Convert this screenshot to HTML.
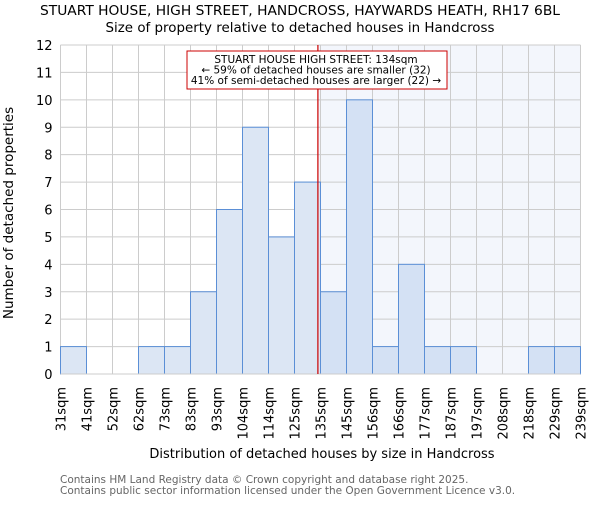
<!DOCTYPE html>
<html><head><meta charset="utf-8"><style>
body{margin:0;background:#fff;}
svg{font-family:"DejaVu Sans","Liberation Sans",sans-serif;}
</style></head><body>
<svg id="c" width="600" height="500"></svg>
<script>
const categories=["31sqm","41sqm","52sqm","62sqm","73sqm","83sqm","93sqm","104sqm","114sqm","125sqm","135sqm","145sqm","156sqm","166sqm","177sqm","187sqm","197sqm","208sqm","218sqm","229sqm","239sqm"];
const binEdges=[31,41,52,62,73,83,93,104,114,125,135,145,156,166,177,187,197,208,218,229,239];
const counts=[1,0,0,1,1,3,6,9,5,7,3,10,1,4,1,1,0,0,1,1];
const yTicks=[0,1,2,3,4,5,6,7,8,9,10,11,12];
const propertySize=134;
const NS="http://www.w3.org/2000/svg";
const svg=document.getElementById('c');
const X0=60.5,X1=580.5,Y0=374,Y1=45,YMAX=12;
const bw=(X1-X0)/counts.length;
function xi(i){return X0+i*bw;}
function y(v){return Y0-(v/YMAX)*(Y0-Y1);}
function xv(v){let i=0;while(i<binEdges.length-2&&v>binEdges[i+1])i++;return xi(i)+(v-binEdges[i])/(binEdges[i+1]-binEdges[i])*bw;}
function mk(t,a,txt){const e=document.createElementNS(NS,t);for(const k in a)e.setAttribute(k,a[k]);if(txt!==undefined)e.textContent=txt;svg.appendChild(e);return e;}
const lx=xv(propertySize);
let e;
e=mk('rect',{x:lx,y:Y1,width:X1-lx,height:Y0-Y1,fill:'#f3f6fc'});


for(let i=0;i<=counts.length;i++){e=mk('line',{x1:xi(i),x2:xi(i),y1:Y1,y2:Y0,stroke:'#cccccc','stroke-width':1});

}
yTicks.forEach(t=>{e=mk('line',{x1:X0,x2:X1,y1:y(t),y2:y(t),stroke:'#cccccc','stroke-width':1});


e=mk('text',{x:X0-8,y:y(t)+5,'text-anchor':'end','font-size':13,fill:'#000'},t);

});
counts.forEach((c,i)=>{if(c<=0)return;e=mk('rect',{x:xi(i),y:y(c),width:bw,height:Y0-y(c),fill:binEdges[i]>=propertySize?'#d4e1f4':'#dce6f4',stroke:'#5b8fd6','stroke-width':1});

});
e=mk('line',{x1:X0,x2:X1,y1:Y0,y2:Y0,stroke:'#cccccc','stroke-width':1});


categories.forEach((c,i)=>{const x=xi(i)+5;e=mk('text',{x:x,y:387,transform:`rotate(-90 ${x} 387)`,'text-anchor':'end','font-size':13,fill:'#000'},c);

});
e=mk('line',{x1:lx,x2:lx,y1:Y1,y2:Y0,stroke:'#cc0000','stroke-width':1.2});


e=mk('rect',{x:187,y:51,width:260,height:38,fill:'#fff',stroke:'#cc0000','stroke-width':1});


["STUART HOUSE HIGH STREET: 134sqm","← 59% of detached houses are smaller (32)","41% of semi-detached houses are larger (22) →"].forEach((t,i)=>{e=mk('text',{x:316,y:63+i*10.5,'text-anchor':'middle','font-size':10.5,fill:'#000'},t);

});
e=mk('text',{x:300,y:15,'text-anchor':'middle','font-size':13.5,fill:'#000',textLength:520,lengthAdjust:'spacingAndGlyphs'},"STUART HOUSE, HIGH STREET, HANDCROSS, HAYWARDS HEATH, RH17 6BL");


e=mk('text',{x:300,y:32,'text-anchor':'middle','font-size':13.5,fill:'#000',textLength:389,lengthAdjust:'spacingAndGlyphs'},"Size of property relative to detached houses in Handcross");


e=mk('text',{x:13,y:213,transform:'rotate(-90 13 213)','text-anchor':'middle','font-size':13.5,fill:'#000'},"Number of detached properties");


e=mk('text',{x:322,y:458,'text-anchor':'middle','font-size':13,fill:'#000'},"Distribution of detached houses by size in Handcross");


e=mk('text',{x:60,y:483,'font-size':10.5,fill:'#666'},"Contains HM Land Registry data © Crown copyright and database right 2025.");


e=mk('text',{x:60,y:494,'font-size':10.5,fill:'#666'},"Contains public sector information licensed under the Open Government Licence v3.0.");


</script>
</body></html>
